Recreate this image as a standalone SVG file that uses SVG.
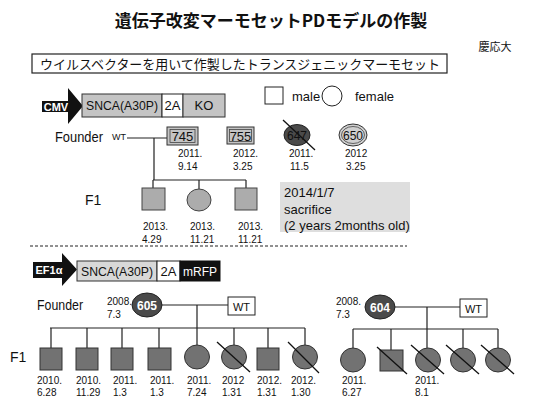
<svg xmlns="http://www.w3.org/2000/svg" width="538" height="397" viewBox="0 0 538 397">
<defs>
<style>
.t{font-family:"Liberation Sans","Noto Sans",sans-serif;fill:#111}
.j{font-family:"Noto Sans CJK JP",sans-serif;fill:#111}
.s{font-size:10px}
.m{font-size:13px}
.ln{stroke:#222;stroke-width:1.2;fill:none}
.g1{fill:#c4c4c4;stroke:#333;stroke-width:1}
.g2{fill:#acacac;stroke:#444;stroke-width:1}
.g3{fill:#727272;stroke:#333;stroke-width:1}
.dk{fill:#4a4a4a;stroke:#222;stroke-width:1}
.x{stroke:#111;stroke-width:1.3}
.w{fill:#fff;stroke:#222;stroke-width:1}
</style>
</defs>
<rect width="538" height="397" fill="#fff"/>
<text class="j" x="271" y="27" font-size="17" font-weight="bold" text-anchor="middle">遺伝子改変マーモセットPDモデルの作製</text>
<text class="j" x="495" y="51" font-size="11" text-anchor="middle">慶応大</text>
<g id="subtitle">
<rect x="32" y="54" width="415" height="19" fill="#fff" stroke="#222" stroke-width="1.2"/>
<text class="j" x="40" y="69" font-size="13" textLength="400" lengthAdjust="spacingAndGlyphs">ウイルスベクターを用いて作製したトランスジェニックマーモセット</text>
</g>
<g id="legend">
<rect x="265" y="87" width="18" height="17" fill="#fff" stroke="#222"/>
<text class="t m" x="292" y="101">male</text>
<ellipse cx="332" cy="96" rx="10" ry="10" fill="#fff" stroke="#222"/>
<text class="t m" x="355" y="101">female</text>
</g>
<g id="construct1">
<polygon points="42,101 68,101 68,88 83,106 68,124 68,112 42,112" fill="#111"/>
<text x="56" y="110.5" font-family="Liberation Sans,sans-serif" font-size="11" font-weight="bold" fill="#fff" text-anchor="middle">CMV</text>
<rect x="82" y="94" width="80" height="23" class="g1"/>
<rect x="162" y="94" width="21" height="23" class="w"/>
<rect x="183" y="94" width="42" height="23" class="g1"/>
<text class="t m" x="86" y="110" textLength="72" lengthAdjust="spacingAndGlyphs">SNCA(A30P)</text>
<text class="t m" x="172.5" y="110" text-anchor="middle">2A</text>
<text class="t m" x="204" y="110" text-anchor="middle">KO</text>
</g>
<g id="connectors">
<path class="ln" d="M127,138 H167 M154,138 V180 M153,180 H246 M153,180 V188 M199,180 V189 M246,180 V188"/>
<path class="ln" d="M162,305 H228 M197,305 V328 M50,328 H305 M51,328 V348 M87,328 V348 M122,328 V348 M159,328 V348 M197,328 V345 M234,328 V345 M268,328 V348 M305,328 V345"/>
<path class="ln" d="M395,307 H460 M427,307 V329 M353,329 H498 M353,329 V348 M391,329 V350 M427,329 V348 M463,329 V348 M498,329 V348"/>
<line x1="30" y1="246" x2="407" y2="246" stroke="#222" stroke-width="1" stroke-dasharray="3,2"/>
</g>
<text class="t" x="55" y="142" font-size="14" textLength="48" lengthAdjust="spacingAndGlyphs">Founder</text>
<text class="t" x="112" y="140" font-size="9">WT</text>
<g id="n745">
<rect x="167" y="127" width="31" height="18" class="g1"/>
<rect x="170" y="129.5" width="25" height="13" fill="none" stroke="#444" stroke-width="0.8"/>
<text class="t m" x="182.5" y="141" text-anchor="middle">745</text>
<text class="t s" x="178" y="157">2011.</text><text class="t s" x="178" y="170">9.14</text>
</g>
<g id="n755">
<rect x="227" y="127" width="27" height="17" class="g1"/>
<rect x="229.5" y="129.5" width="22" height="12" fill="none" stroke="#444" stroke-width="0.8"/>
<text class="t m" x="240.5" y="141" text-anchor="middle">755</text>
<text class="t s" x="233" y="157">2012.</text><text class="t s" x="233" y="170">3.25</text>
</g>
<g id="n647">
<ellipse cx="297" cy="135" rx="13" ry="10.5" class="dk"/>
<text class="t" x="297" y="139.5" font-size="12" text-anchor="middle" fill="#222">647</text>
<line x1="283" y1="120" x2="315" y2="150" class="x"/>
<text class="t s" x="289" y="157">2011.</text><text class="t s" x="290" y="170">11.5</text>
</g>
<g id="n650">
<ellipse cx="353" cy="135" rx="14" ry="11" fill="#d0d0d0" stroke="#333"/>
<ellipse cx="353" cy="135" rx="11.5" ry="8.5" fill="none" stroke="#444" stroke-width="0.8"/>
<text class="t" x="353" y="139.5" font-size="12" text-anchor="middle">650</text>
<text class="t s" x="345" y="157">2012</text><text class="t s" x="346" y="170">3.25</text>
</g>
<g id="note">
<rect x="280" y="182" width="130" height="50" fill="#dedede"/>
<text class="t m" x="284" y="197">2014/1/7</text>
<text class="t m" x="284" y="214">sacrifice</text>
<text class="t m" x="284" y="230">(2 years 2months old)</text>
</g>
<text class="t" x="85" y="205" font-size="14">F1</text>
<g id="f1a">
<rect x="142" y="188" width="23" height="22" class="g2"/>
<text class="t s" x="143" y="230">2013.</text><text class="t s" x="142" y="243">4.29</text>
</g>
<g id="f1b">
<ellipse cx="199" cy="200" rx="12" ry="11" class="g2"/>
<text class="t s" x="190" y="230">2013.</text><text class="t s" x="190" y="243">11.21</text>
</g>
<g id="f1c">
<rect x="235" y="188" width="22" height="22" class="g2"/>
<text class="t s" x="238" y="230">2013.</text><text class="t s" x="238" y="243">11.21</text>
</g>
<g id="construct2">
<polygon points="33,262 62,262 62,253 77,269.5 62,286 62,278 33,278" fill="#111"/>
<text x="49" y="274" font-family="Liberation Sans,sans-serif" font-size="11" font-weight="bold" fill="#fff" text-anchor="middle">EF1α</text>
<rect x="77" y="261" width="80" height="20" fill="#d8d8d8" stroke="#333"/>
<rect x="157" y="261" width="23" height="20" class="w"/>
<rect x="180" y="261" width="40" height="20" fill="#111" stroke="#111"/>
<text class="t m" x="81" y="276" textLength="72" lengthAdjust="spacingAndGlyphs">SNCA(A30P)</text>
<text class="t m" x="168.5" y="276" text-anchor="middle">2A</text>
<text x="200" y="276" font-family="Liberation Sans,sans-serif" font-size="12" fill="#fff" text-anchor="middle">mRFP</text>
</g>
<text class="t" x="37" y="310" font-size="14" textLength="46" lengthAdjust="spacingAndGlyphs">Founder</text>
<g id="n605">
<text class="t s" x="107" y="305">2008.</text><text class="t s" x="107" y="318">7.3</text>
<ellipse cx="147" cy="305" rx="15" ry="12" class="dk"/>
<text x="147" y="309.5" font-family="Liberation Sans,sans-serif" font-size="12" font-weight="bold" fill="#fff" text-anchor="middle">605</text>
</g>
<g id="wt1">
<rect x="228" y="297" width="27" height="18" class="w"/>
<text class="t" x="241.5" y="310.5" font-size="11" text-anchor="middle">WT</text>
</g>
<text class="t" x="10" y="362" font-size="14">F1</text>
<g id="c1"><rect x="40" y="348" width="22" height="22" class="g3"/><text class="t s" x="37" y="384">2010.</text><text class="t s" x="37" y="396">6.28</text></g>
<g id="c2"><rect x="76" y="348" width="22" height="22" class="g3"/><text class="t s" x="76" y="384">2010.</text><text class="t s" x="76" y="396">11.29</text></g>
<g id="c3"><rect x="111" y="348" width="22" height="22" class="g3"/><text class="t s" x="113" y="384">2011.</text><text class="t s" x="113" y="396">1.3</text></g>
<g id="c4"><rect x="148" y="348" width="23" height="22" class="g3"/><text class="t s" x="150" y="384">2011.</text><text class="t s" x="150" y="396">1.3</text></g>
<g id="c5"><ellipse cx="197" cy="357" rx="12.5" ry="12" class="g3"/><text class="t s" x="187" y="384">2011.</text><text class="t s" x="187" y="396">7.24</text></g>
<g id="c6"><ellipse cx="234" cy="357" rx="12.5" ry="12" class="g3"/><line x1="217" y1="342" x2="250" y2="372" class="x"/><text class="t s" x="222" y="384">2012</text><text class="t s" x="222" y="396">1.31</text></g>
<g id="c7"><rect x="257" y="348" width="22" height="22" class="g3"/><text class="t s" x="257" y="384">2012.</text><text class="t s" x="257" y="396">1.31</text></g>
<g id="c8"><ellipse cx="305" cy="357" rx="12.5" ry="12" class="g3"/><line x1="288" y1="342" x2="319" y2="373" class="x"/><text class="t s" x="291" y="384">2012.</text><text class="t s" x="291" y="396">1.30</text></g>
<g id="n604">
<text class="t s" x="336" y="305">2008.</text><text class="t s" x="336" y="318">7.3</text>
<ellipse cx="380" cy="307" rx="15" ry="12" class="dk"/>
<text x="380" y="311.5" font-family="Liberation Sans,sans-serif" font-size="12" font-weight="bold" fill="#fff" text-anchor="middle">604</text>
</g>
<g id="wt2">
<rect x="460" y="299" width="27" height="18" class="w"/>
<text class="t" x="473.5" y="312.5" font-size="11" text-anchor="middle">WT</text>
</g>
<g id="d1"><ellipse cx="353" cy="360" rx="12.5" ry="12" class="g3"/><text class="t s" x="342" y="384">2011.</text><text class="t s" x="342" y="396">6.27</text></g>
<g id="d2"><rect x="380" y="350" width="23" height="21" class="g3"/><line x1="377" y1="347" x2="407" y2="374" class="x"/></g>
<g id="d3"><ellipse cx="428" cy="360" rx="12.5" ry="12" class="g3"/><line x1="411" y1="345" x2="444" y2="374" class="x"/><text class="t s" x="415" y="384">2011.</text><text class="t s" x="415" y="396">8.1</text></g>
<g id="d4"><ellipse cx="463" cy="360" rx="12.5" ry="12" class="g3"/><line x1="446" y1="345" x2="479" y2="374" class="x"/></g>
<g id="d5"><ellipse cx="498" cy="360" rx="12.5" ry="12" class="g3"/><line x1="481" y1="345" x2="514" y2="374" class="x"/></g>
</svg>
